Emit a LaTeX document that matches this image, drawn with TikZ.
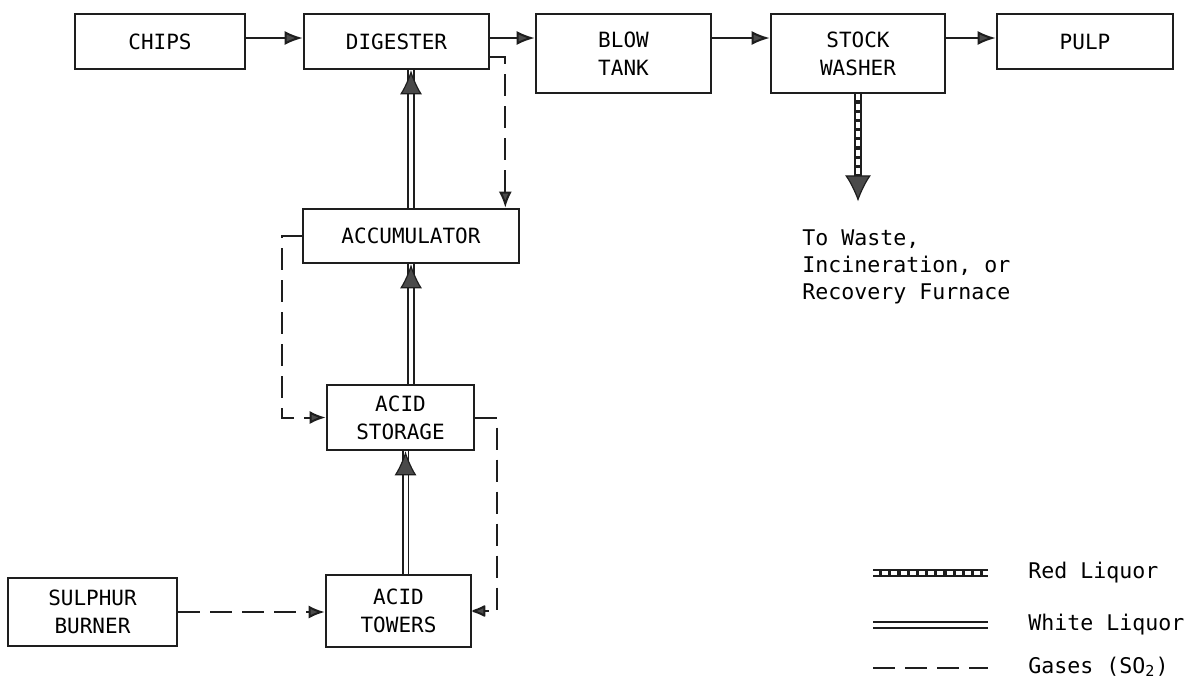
\documentclass[tikz,border=0pt]{standalone}
\usepackage{fontspec}
\setmonofont{DejaVu Sans Mono}
\usetikzlibrary{arrows.meta,positioning,calc}
\definecolor{ink}{HTML}{1E1E1E}
\definecolor{tipgray}{HTML}{4A4A4A}
\tikzset{
  unit/.style={draw=ink,line width=1.3pt,align=center,inner sep=0pt,font=\ttfamily\fontsize{10.5}{14}\selectfont},
  note/.style={align=left,inner sep=0pt,font=\ttfamily\fontsize{10.8}{13.5}\selectfont},
  flow/.style={draw=ink,line width=1pt,-{Latex[length=9pt,width=7pt,fill=tipgray]}},
  gas/.style={draw=ink,line width=1pt,dash pattern=on 11pt off 5pt},
  gastip/.style={-{Latex[length=8pt,width=6.5pt,fill=tipgray]}},
  wliq/.style={draw=ink,line width=0.9pt,double=white,double distance=2pt},
  wtip/.style={draw=ink,line width=0.6pt,-{Latex[length=12pt,width=11pt,fill=tipgray]}},
  rliq/.style={draw=ink,line width=4pt,postaction={draw=white,line width=1.8pt,dash pattern=on 3pt off 1.6pt}},
  rtip/.style={draw=ink,line width=0.6pt,-{Latex[length=13pt,width=13pt,fill=tipgray]}}
}
\begin{document}
\begin{tikzpicture}[x=0.5pt,y=-0.5pt]
  \useasboundingbox (0,0) rectangle (1203,693);
  \node[unit,minimum width=85pt,minimum height=27.5pt] (chips) at (160,41.5) {CHIPS};
  \node[unit,minimum width=92.5pt,minimum height=27.5pt] (digester) at (396.5,41.5) {DIGESTER};
  \node[unit,minimum width=87.5pt,minimum height=39.5pt] (blow) at (623.5,53.5) {BLOW\\TANK};
  \node[unit,minimum width=87pt,minimum height=39.5pt] (washer) at (858,53.5) {STOCK\\WASHER};
  \node[unit,minimum width=88pt,minimum height=27.5pt] (pulp) at (1085,41.5) {PULP};
  \node[unit,minimum width=108pt,minimum height=27pt] (accum) at (411,236) {ACCUMULATOR};
  \node[unit,minimum width=73.5pt,minimum height=32.5pt] (storage) at (400.5,417.5) {ACID\\STORAGE};
  \node[unit,minimum width=72.5pt,minimum height=36pt] (towers) at (398.5,611) {ACID\\TOWERS};
  \node[unit,minimum width=84.5pt,minimum height=34pt] (sulphur) at (92.5,612) {SULPHUR\\BURNER};
  \draw[flow] ([yshift=1.75pt]chips.east) -- ([yshift=1.75pt]digester.west);
  \draw[flow] ([yshift=1.75pt]digester.east) -- ([yshift=1.75pt]digester.east -| blow.west);
  \draw[flow] ([yshift=1.75pt]blow.east |- digester.east) -- ([yshift=1.75pt]washer.west |- digester.east);
  \draw[flow] ([yshift=1.75pt]washer.east |- pulp.west) -- ([yshift=1.75pt]pulp.west);
  % red liquor to waste
  \coordinate[below=53.5pt of washer.south] (waste);
  \draw[rliq] (washer.south) -- ([yshift=12pt]waste);
  \draw[rtip] ([yshift=2pt]waste) -- (waste);
  \node[note,anchor=north west] (dest) at (802,229) {To Waste,\\Incineration, or\\Recovery Furnace};
  % white liquor
  \coordinate (dg) at (accum.north |- digester.south);
  \coordinate (ac) at (accum.south);
  \coordinate (st) at ([xshift=2.5pt]storage.south);
  \draw[wliq] (accum.north) -- (dg);
  \draw[wtip] ([yshift=-2pt]dg) -- (dg);
  \draw[wliq] (storage.north -| ac) -- (ac);
  \draw[wtip] ([yshift=-2pt]ac) -- (ac);
  \draw[wliq] (towers.north -| st) -- (st);
  \draw[wtip] ([yshift=-2pt]st) -- (st);
  % gases
  \draw[gas,gastip] ([yshift=-7.75pt]digester.east) -| ([xshift=-7.5pt]accum.north east);
  \draw[gas,gastip] (accum.west) -- ++(-10pt,0) |- (storage.west);
  \draw[gas,-{Latex[round,length=8pt,width=6.5pt,fill=tipgray]}] (storage.east) -- ++(11pt,0) |- (towers.east);
  \draw[gas,gastip] (sulphur.east) -- (sulphur.east -| towers.west);
  % legend
  \foreach \y/\s/\t in {573/rliq/Red Liquor,625/wliq/White Liquor,668/gas/Gases (SO\textsubscript{2})}{
    \draw[\s] (873,\y) -- (988,\y);
    \node[note,anchor=base west] (key\y) at (1028,\y+5) {\t};}
\end{tikzpicture}
\end{document}
